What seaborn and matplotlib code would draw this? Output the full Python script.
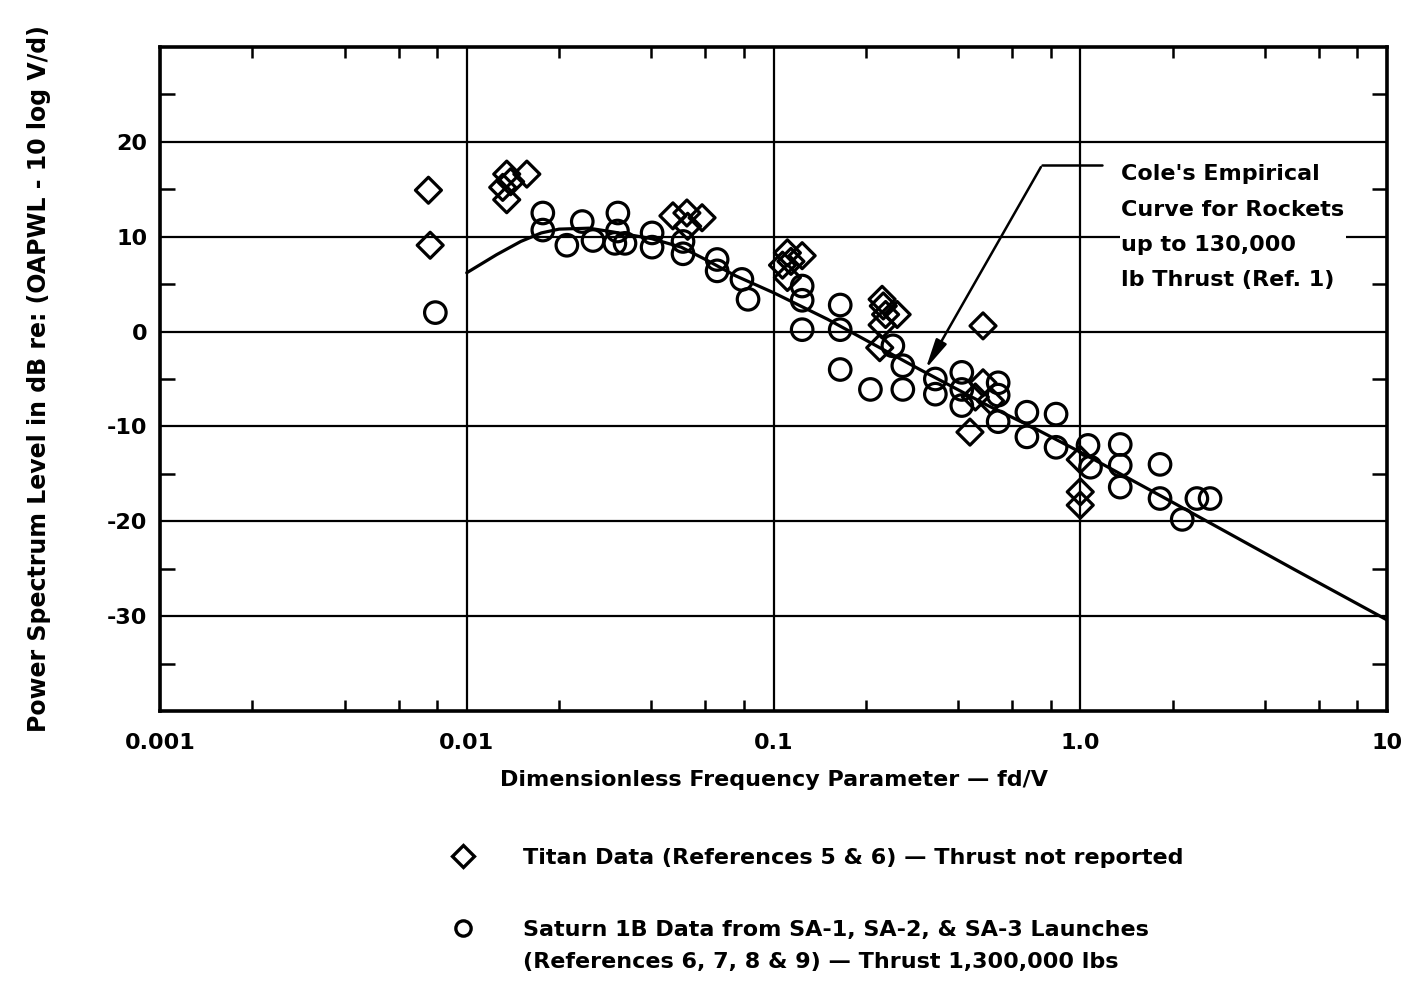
import matplotlib
matplotlib.use("Agg")
import matplotlib.pyplot as plt
import seaborn as sns
from matplotlib.lines import Line2D
from matplotlib.ticker import FixedLocator, NullFormatter

# Titan data (diamonds)
titan_f = [0.0075, 0.0076, 0.0131, 0.0135, 0.0135, 0.0139, 0.0157,
           0.047, 0.0522, 0.0585, 0.0525,
           0.111, 0.124, 0.107, 0.111, 0.114,
           0.226, 0.253, 0.232, 0.226, 0.222, 0.228,
           0.482, 0.437, 0.455, 0.482, 0.51,
           1.0, 1.0, 1.0]
titan_db = [14.9, 9.1, 15.2, 13.9, 16.6, 15.8, 16.6,
            12.2, 12.5, 12.0, 11.1,
            8.3, 8.0, 7.0, 5.7, 7.4,
            3.4, 1.8, 1.8, 0.7, -1.7, 2.7,
            0.6, -10.6, -6.9, -5.4, -7.3,
            -13.5, -16.9, -18.3]

# Saturn 1B data (circles)
saturn_f = [0.0079, 0.0177, 0.0177, 0.0212, 0.0238, 0.0258,
            0.0311, 0.031, 0.0304, 0.0328, 0.0402, 0.0402,
            0.0507, 0.0507, 0.0655, 0.0655, 0.0789, 0.0826,
            0.124, 0.124, 0.124, 0.165, 0.165, 0.165,
            0.207, 0.245, 0.264, 0.264, 0.337, 0.337,
            0.411, 0.411, 0.411, 0.54, 0.54, 0.54,
            0.67, 0.67, 0.834, 0.834, 1.06, 1.08,
            1.35, 1.35, 1.35, 1.82, 1.82, 2.15, 2.4, 2.65]
saturn_db = [2.0, 12.5, 10.7, 9.1, 11.6, 9.6,
             12.5, 10.6, 9.3, 9.3, 10.4, 8.9,
             9.5, 8.2, 7.6, 6.4, 5.5, 3.4,
             4.8, 3.3, 0.2, 2.8, 0.2, -4.0,
             -6.1, -1.5, -3.6, -6.1, -5.0, -6.6,
             -4.3, -6.1, -7.8, -5.4, -6.7, -9.5,
             -8.5, -11.1, -8.7, -12.2, -12.0, -14.3,
             -11.9, -14.1, -16.4, -14.0, -17.6, -19.8, -17.6, -17.6]

# Cole's empirical curve
cole_f = [0.01, 0.0125, 0.015, 0.0175, 0.02, 0.025, 0.03, 0.04, 0.05, 0.06,
          0.075, 0.1, 0.15, 0.2, 0.3, 0.5, 0.7, 1.0, 2.0, 5.0, 10.0]
cole_db = [6.2, 8.1, 9.5, 10.4, 10.8, 10.9, 10.5, 9.8, 8.9, 7.6,
           5.9, 4.1, 1.3, -0.9, -4.0, -7.8, -10.1, -12.7, -18.0, -25.1, -30.4]

x_ticks = [0.001, 0.01, 0.1, 1.0, 10]
x_tick_labels = ["0.001", "0.01", "0.1", "1.0", "10"]
y_ticks = [20, 10, 0, -10, -20, -30]

sns.set_theme(style="white")
plt.rcParams["font.family"] = ["DejaVu Sans"]
plt.rcParams["font.weight"] = "bold"
plt.rcParams["axes.labelweight"] = "bold"
plt.rcParams["axes.unicode_minus"] = False
for key in ("text.color", "axes.labelcolor", "xtick.color", "ytick.color"):
    plt.rcParams[key] = "black"
FS = 16

fig = plt.figure(figsize=(14.06, 9.82), dpi=100)
ax = fig.add_axes([160 / 1406, 1 - 711 / 982, 1227 / 1406, 664 / 982])
ax.set_xscale("log")
ax.set_xlim(0.001, 10)
ax.set_ylim(-40, 30)

sns.lineplot(x=cole_f, y=cole_db, color="black", lw=2.3, ax=ax)
sns.scatterplot(x=titan_f, y=titan_db, marker="D", s=175, color="black",
                facecolor="none", edgecolor="black", linewidth=2.3,
                legend=False, ax=ax, zorder=3)
sns.scatterplot(x=saturn_f, y=saturn_db, marker="o", s=240, color="black",
                facecolor="none", edgecolor="black", linewidth=2.3,
                legend=False, ax=ax, zorder=3)

ax.xaxis.set_major_locator(FixedLocator(x_ticks))
ax.set_xticklabels(x_tick_labels)
minor_x = [m * 10.0 ** k for k in (-3, -2, -1, 0) for m in (2, 4, 6, 8)]
ax.xaxis.set_minor_locator(FixedLocator(minor_x))
ax.xaxis.set_minor_formatter(NullFormatter())
ax.yaxis.set_major_locator(FixedLocator(y_ticks))
ax.yaxis.set_minor_locator(FixedLocator([25, 15, 5, -5, -15, -25, -35]))
ax.yaxis.set_minor_formatter(NullFormatter())

ax.grid(which="major", color="black", lw=1.6)
ax.tick_params(which="major", length=0, labelsize=FS)
ax.tick_params(axis="x", which="major", pad=16)
ax.tick_params(axis="y", which="major", pad=9)
ax.tick_params(axis="x", which="minor", direction="in", length=8, width=1.8,
               top=True, bottom=True, color="black")
ax.tick_params(axis="y", which="minor", direction="in", length=11, width=1.8,
               left=True, right=True, color="black")
for sp in ax.spines.values():
    sp.set_color("black")
    sp.set_linewidth(2.6)

ax.set_xlabel("Dimensionless Frequency Parameter \u2014 fd/V", fontsize=FS, labelpad=12)
ax.set_ylabel("Power Spectrum Level in dB re: (OAPWL - 10 log V/d)", fontsize=FS + 1, labelpad=40)

# annotation for Cole's curve
ax.text(1.36, 11.0, "Cole's Empirical\nCurve for Rockets\nup to 130,000\nlb Thrust (Ref. 1)",
        fontsize=FS, va="center", ha="left", linespacing=1.95,
        bbox=dict(fc="white", ec="none", pad=1))
ax.plot([0.752, 1.18], [17.6, 17.6], color="black", lw=1.8)
ax.annotate("", xy=(0.31, -4.2), xytext=(0.752, 17.6),
            arrowprops=dict(arrowstyle="-|>,head_length=0.9,head_width=0.18",
                            color="black", lw=1.8, mutation_scale=20))

# legend below the chart
titan_h = Line2D([], [], marker="D", ls="none", mfc="none", mec="black", mew=2.4, ms=11)
saturn_h = Line2D([], [], marker="o", ls="none", mfc="none", mec="black", mew=2.4, ms=11)
blank_h = Line2D([], [], ls="none")
fig.legend([titan_h], ["Titan Data (References 5 & 6) \u2014 Thrust not reported"],
           loc="center left", bbox_to_anchor=(452 / 1406, 1 - 858 / 982),
           frameon=False, fontsize=FS, handlelength=1.0, handletextpad=2.2,
           borderpad=0, borderaxespad=0)
fig.legend([saturn_h, blank_h],
           ["Saturn 1B Data from SA-1, SA-2, & SA-3 Launches",
            "(References 6, 7, 8 & 9) \u2014 Thrust 1,300,000 lbs"],
           loc="center left", bbox_to_anchor=(452 / 1406, 1 - 946 / 982),
           frameon=False, fontsize=FS, handlelength=1.0, handletextpad=2.2,
           borderpad=0, borderaxespad=0, labelspacing=0.55)

fig.savefig("out.png", dpi=100, facecolor="white")
